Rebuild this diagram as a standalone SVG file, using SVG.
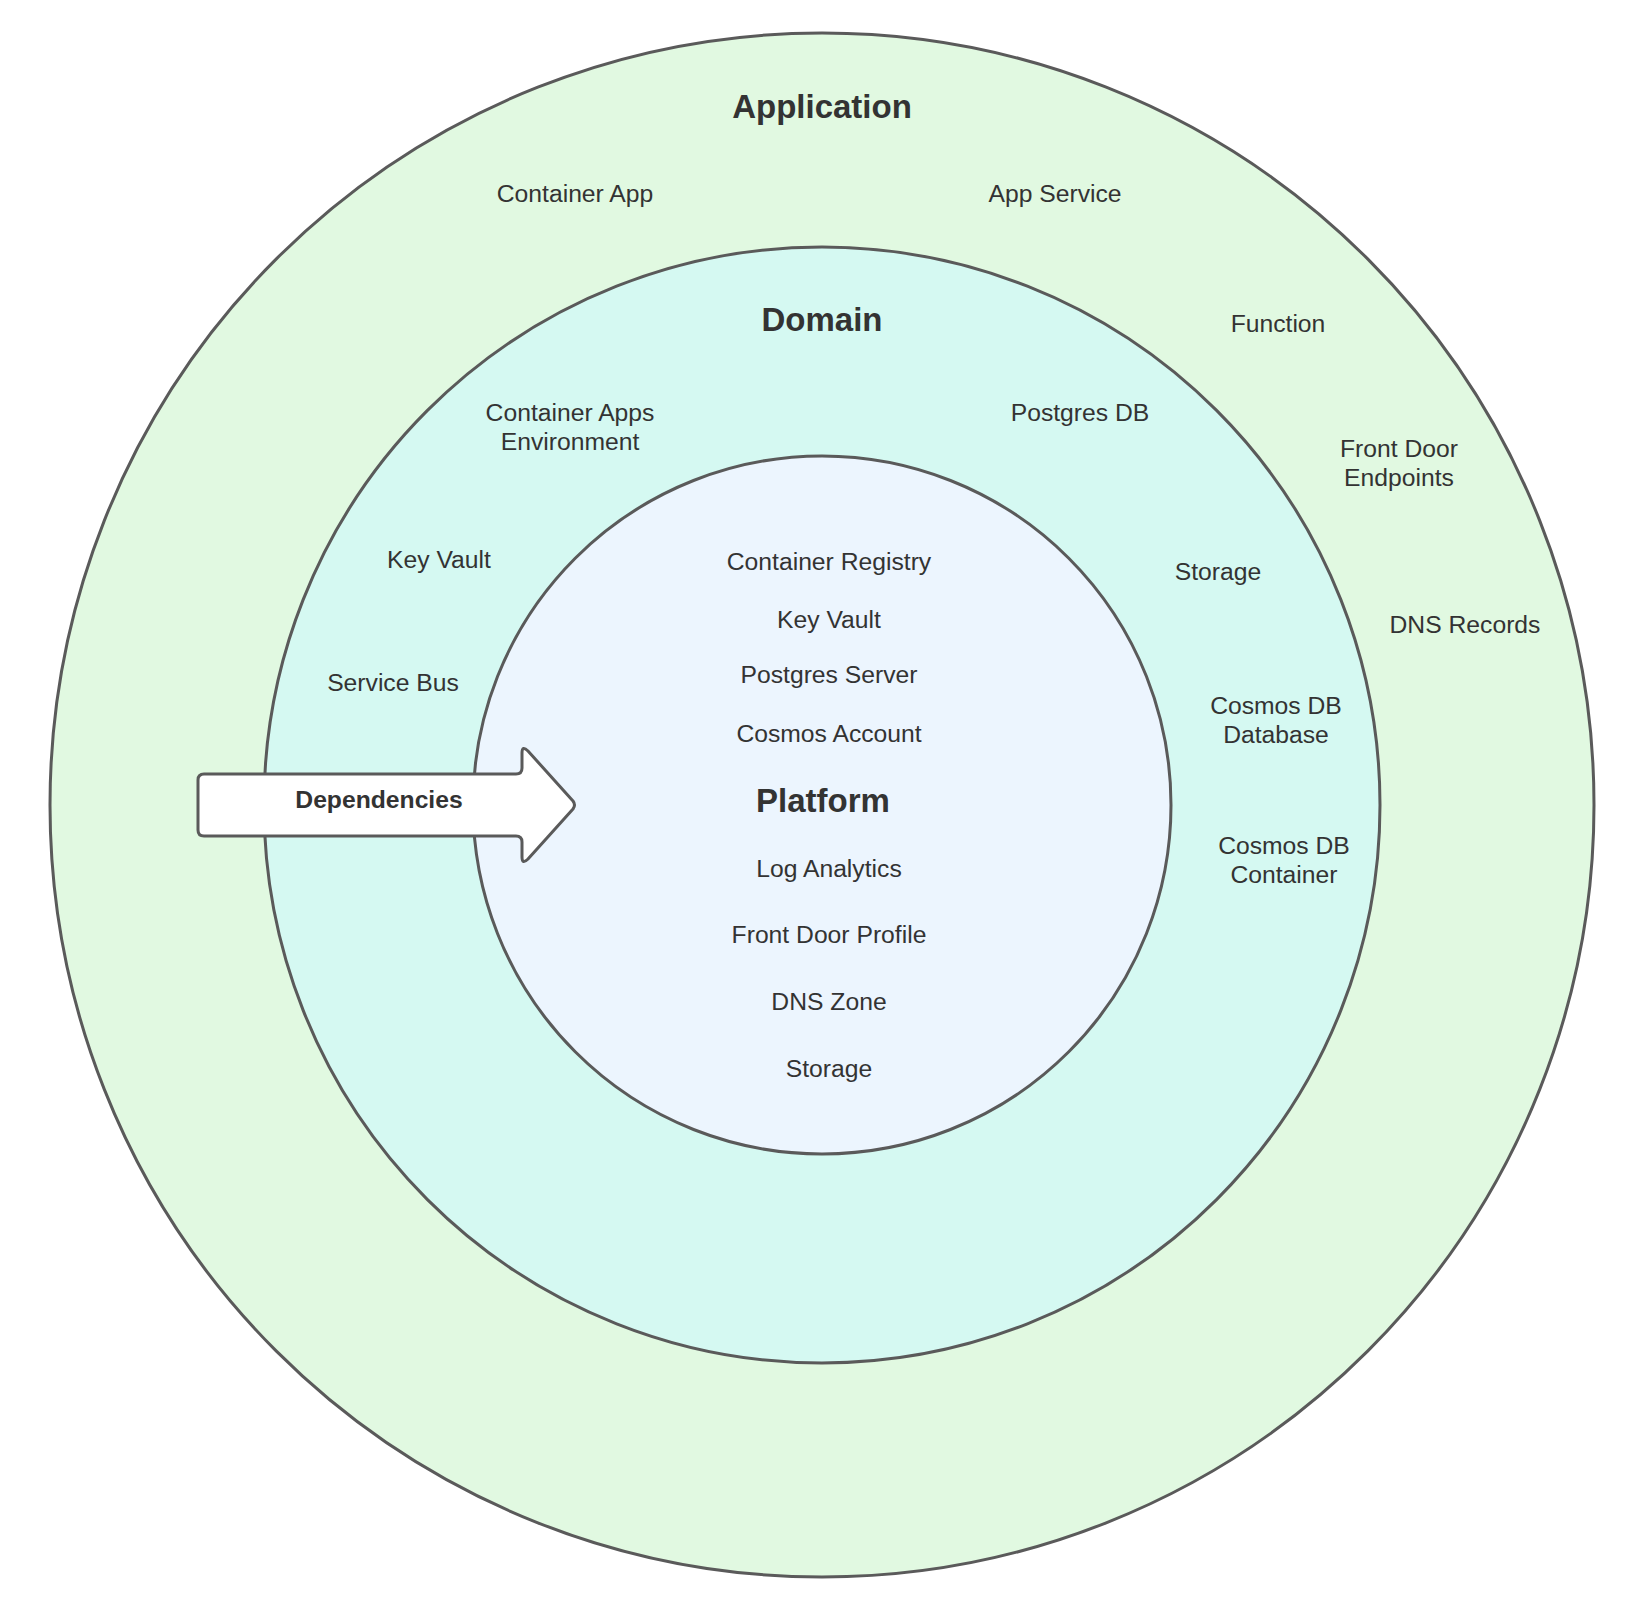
<svg xmlns="http://www.w3.org/2000/svg" width="1635" height="1621" viewBox="0 0 1635 1621">
<style>
.ring{stroke:#5a5a5a;stroke-width:3}
.t{font-family:"Liberation Sans",Arial,sans-serif;font-size:24.7px;fill:#333333;text-anchor:middle}
.h{font-family:"Liberation Sans",Arial,sans-serif;font-size:33px;font-weight:bold;fill:#333333;text-anchor:middle}
.d{font-family:"Liberation Sans",Arial,sans-serif;font-size:24.7px;font-weight:bold;fill:#333333;text-anchor:middle}
</style>
<rect width="1635" height="1621" fill="#ffffff"/>
<g id="application">
<circle class="ring" cx="822" cy="805" r="772" fill="#e1f9e1"/>
<text class="h" x="822" y="118">Application</text>
<text class="t" x="575" y="202">Container App</text>
<text class="t" x="1055" y="202">App Service</text>
<text class="t" x="1278" y="332">Function</text>
<text class="t" x="1399" y="457">Front Door</text>
<text class="t" x="1399" y="486">Endpoints</text>
<text class="t" x="1465" y="633">DNS Records</text>
</g>
<g id="domain">
<circle class="ring" cx="822" cy="805" r="558" fill="#d5f9f2"/>
<text class="h" x="822" y="331">Domain</text>
<text class="t" x="570" y="421">Container Apps</text>
<text class="t" x="570" y="450">Environment</text>
<text class="t" x="1080" y="421">Postgres DB</text>
<text class="t" x="439" y="568">Key Vault</text>
<text class="t" x="1218" y="580">Storage</text>
<text class="t" x="393" y="691">Service Bus</text>
<text class="t" x="1276" y="714">Cosmos DB</text>
<text class="t" x="1276" y="743">Database</text>
<text class="t" x="1284" y="854">Cosmos DB</text>
<text class="t" x="1284" y="883">Container</text>
</g>
<g id="platform">
<circle class="ring" cx="822" cy="805" r="349" fill="#ecf5fe"/>
<text class="t" x="829" y="570">Container Registry</text>
<text class="t" x="829" y="628">Key Vault</text>
<text class="t" x="829" y="683">Postgres Server</text>
<text class="t" x="829" y="742">Cosmos Account</text>
<text class="h" x="823" y="812">Platform</text>
<text class="t" x="829" y="877">Log Analytics</text>
<text class="t" x="829" y="943">Front Door Profile</text>
<text class="t" x="829" y="1010">DNS Zone</text>
<text class="t" x="829" y="1077">Storage</text>
</g>
<g id="connectors">
<g id="dependencies">
<path d="M204 774 L516 774 Q522 774 522 768 L522 753 Q522 745 528 751 L573 801 Q576 805 573 809 L528 859 Q522 865 522 857 L522 842 Q522 836 516 836 L204 836 Q198 836 198 830 L198 780 Q198 774 204 774 Z" fill="#ffffff" stroke="#5a5a5a" stroke-width="3" stroke-linejoin="round"/>
<text class="d" x="379" y="808">Dependencies</text>
</g>
</g>
</svg>
